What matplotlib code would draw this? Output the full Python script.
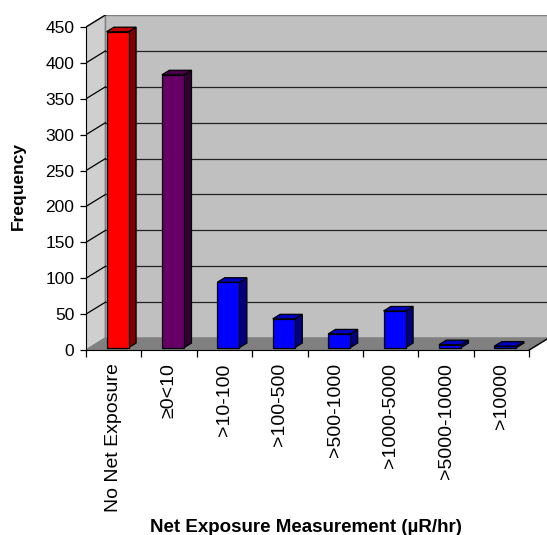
import numpy as np
import matplotlib.pyplot as plt
from matplotlib.patches import Polygon

plt.rcParams['font.family'] = ['Liberation Sans', 'DejaVu Sans']

# Data
categories = ['No Net Exposure', '≥0<10', '>10-100', '>100-500', '>500-1000',
              '>1000-5000', '>5000-10000', '>10000']
counts = [440, 380, 91, 40, 19, 51, 4, 2]
front_colors = ['#FF0000', '#660066', '#0000FF', '#0000FF', '#0000FF', '#0000FF', '#0000FF', '#0000FF']
top_colors = ['#C00000', '#4C004C', '#0000C0', '#0000C0', '#0000C0', '#0000C0', '#0000C0', '#0000C0']
side_colors = ['#800000', '#330033', '#000080', '#000080', '#000080', '#000080', '#000080', '#000080']
yticks = list(range(0, 451, 50))

W, H = 547, 535
fig = plt.figure(figsize=(W / 100, H / 100), dpi=100)
ax = fig.add_axes([86 / W, 1 - 350 / H, (W - 86) / W, (350 - 15) / H])

n = len(categories)
px_per_cat = 55.4
px_per_val = 0.7178
ymax = 450
# depth of the 3d box, in data units
ddx = 19.5 / px_per_cat
ddy = 12 / px_per_val
x0, x1 = -0.5, n - 0.5
ax.set_xlim(x0, x0 + (W - 86) / px_per_cat)
ax.set_ylim(0, (350 - 15) / px_per_val)

# walls and floor
ax.add_patch(Polygon([(x0, 0), (x0 + ddx, ddy), (x0 + ddx, ymax + ddy), (x0, ymax)],
                     closed=True, facecolor='#CFCFCF', edgecolor='#808080', lw=1, zorder=1))
ax.add_patch(Polygon([(x0 + ddx, ddy), (x1 + ddx + 1, ddy), (x1 + ddx + 1, ymax + ddy), (x0 + ddx, ymax + ddy)],
                     closed=True, facecolor='#C0C0C0', edgecolor='#808080', lw=1, zorder=1))
ax.add_patch(Polygon([(x0, 0), (x1, 0), (x1 + ddx, ddy), (x0 + ddx, ddy)],
                     closed=True, facecolor='#808080', edgecolor='#808080', lw=1, zorder=1.5))
ax.plot([x1, x1 + ddx], [0, ddy], color='black', lw=1, zorder=2, clip_on=False)

# gridlines
for v in yticks[1:]:
    ax.plot([x0, x0 + ddx], [v, v + ddy], color='black', lw=0.9, zorder=2)
    if v < ymax:
        ax.plot([x0 + ddx, x1 + ddx + 1], [v + ddy, v + ddy], color='#222222', lw=0.9, zorder=2)

# bars
bw = 0.4
fz = 0.2      # where the bar front sits in the depth
bd = 0.38     # bar depth fraction
for i, val in enumerate(counts):
    bx = i - bw / 2 + fz * ddx
    by = fz * ddy
    sx, sy = bd * ddx, bd * ddy
    ax.add_patch(Polygon([(bx + bw, by), (bx + bw + sx, by + sy), (bx + bw + sx, by + val + sy), (bx + bw, by + val)],
                         closed=True, facecolor=side_colors[i], edgecolor='black', lw=0.9, zorder=3))
    ax.add_patch(Polygon([(bx, by + val), (bx + bw, by + val), (bx + bw + sx, by + val + sy), (bx + sx, by + val + sy)],
                         closed=True, facecolor=top_colors[i], edgecolor='black', lw=0.9, zorder=3))
    ax.bar(bx, val, width=bw, bottom=by, align='edge', color=front_colors[i],
           edgecolor='black', lw=0.9, zorder=4)

# axes
for s in ['top', 'right']:
    ax.spines[s].set_visible(False)
ax.spines['left'].set_bounds(0, ymax)
ax.spines['bottom'].set_bounds(x0, x1)
ax.spines['left'].set_zorder(5)
ax.spines['bottom'].set_zorder(5)
ax.set_yticks(yticks)
ax.set_yticklabels([str(v) for v in yticks], fontsize=12.5)
ax.tick_params(axis='y', length=4.3, width=0.9, pad=4, direction='out')
ax.set_xticks(range(n))
ax.set_xticklabels(categories, rotation=90, fontsize=14, va='top', ha='center')
ax.set_xticks(np.arange(n + 1) - 0.5, minor=True)
ax.tick_params(axis='x', which='major', length=0, pad=9.5)
ax.tick_params(axis='x', which='minor', length=5, width=0.9, direction='out')
ax.patch.set_visible(False)

fig.text(18.5 / W, 1 - 186 / H, 'Frequency', rotation=90, ha='center', va='center',
         fontsize=12.5, fontweight='bold')
fig.text(306 / W, 1 - 527 / H, 'Net Exposure Measurement (µR/hr)', ha='center', va='center',
         fontsize=13.5, fontweight='bold')

fig.savefig('out.png', dpi=100)
